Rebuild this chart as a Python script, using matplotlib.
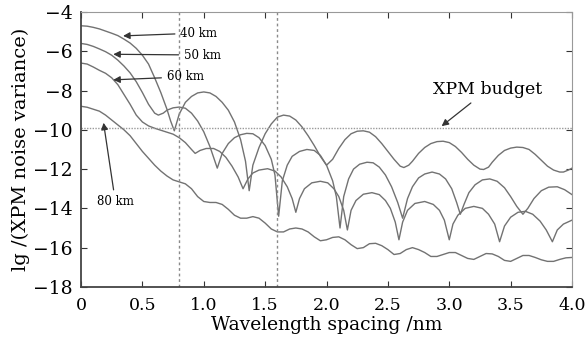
import matplotlib
matplotlib.use("Agg")
import matplotlib.pyplot as plt

# curve samples (wavelength spacing in nm, lg of variance)
x_40 = [0, 0.05, 0.1, 0.15, 0.2, 0.25, 0.3, 0.35, 0.4, 0.45, 0.5, 0.55, 0.6, 0.65, 0.7, 0.73, 0.76,
        0.8, 0.85, 0.9, 0.95, 1.0, 1.05, 1.1, 1.15, 1.2, 1.25, 1.3, 1.34, 1.37, 1.4, 1.45, 1.5, 1.55,
        1.6, 1.65, 1.7, 1.75, 1.8, 1.85, 1.9, 1.95, 2.0, 2.05, 2.1, 2.15, 2.2, 2.25, 2.3, 2.35, 2.4,
        2.45, 2.5, 2.55, 2.6, 2.63, 2.67, 2.7, 2.75, 2.8, 2.85, 2.9, 2.95, 3.0, 3.05, 3.1, 3.15, 3.2,
        3.25, 3.28, 3.32, 3.35, 3.4, 3.45, 3.5, 3.55, 3.6, 3.65, 3.7, 3.75, 3.8, 3.85, 3.9, 3.93, 3.97, 4.0]
y_40 = [-4.70, -4.72, -4.78, -4.86, -4.97, -5.08, -5.20, -5.38, -5.58, -5.85, -6.20, -6.65, -7.35, -8.10,
        -8.95, -9.55, -10.05,
        -9.2, -8.6, -8.3, -8.12, -8.07, -8.12, -8.3, -8.6, -9.0, -9.6, -10.5, -11.6, -13.1, -11.8, -10.9,
        -10.2, -9.7, -9.35, -9.25, -9.3, -9.5, -9.85, -10.3, -10.8, -11.35, -11.8, -11.5, -10.95, -10.5,
        -10.2, -10.07, -10.05, -10.12, -10.35, -10.7, -11.1, -11.5, -11.85, -11.92, -11.8, -11.6, -11.2,
        -10.9, -10.7, -10.6, -10.58, -10.65, -10.85, -11.15, -11.5, -11.8, -12.0, -12.02, -11.9, -11.65,
        -11.3, -11.05, -10.93, -10.88, -10.9, -11.0, -11.25, -11.55, -11.85, -12.05, -12.15, -12.15,
        -12.05, -11.95]

x_50 = [0, 0.05, 0.1, 0.15, 0.2, 0.25, 0.3, 0.35, 0.4, 0.45, 0.5, 0.55, 0.6, 0.63, 0.67, 0.7, 0.75, 0.8,
        0.85, 0.9, 0.95, 1.0, 1.05, 1.11, 1.15, 1.2, 1.25, 1.3, 1.35, 1.4, 1.45, 1.5, 1.55, 1.58, 1.61,
        1.64, 1.68, 1.72, 1.78, 1.84, 1.9, 1.95, 2.0, 2.05, 2.08, 2.11, 2.14, 2.18, 2.22, 2.27, 2.33,
        2.38, 2.43, 2.48, 2.53, 2.58, 2.62, 2.66, 2.7, 2.75, 2.8, 2.86, 2.92, 2.97, 3.02, 3.06, 3.09,
        3.12, 3.16, 3.21, 3.27, 3.33, 3.39, 3.45, 3.5, 3.55, 3.6, 3.64, 3.69, 3.75, 3.81, 3.88, 3.94, 4.0]
y_50 = [-5.60, -5.65, -5.75, -5.88, -6.02, -6.2, -6.45, -6.75, -7.1, -7.55, -8.1, -8.7, -9.15, -9.25,
        -9.15, -9.0, -8.88, -8.84, -8.9, -9.15, -9.55, -10.1, -10.85, -11.95, -11.2, -10.7, -10.4,
        -10.25, -10.18, -10.2, -10.4, -10.8, -11.5, -12.3, -14.4, -12.6, -11.8, -11.35, -11.1, -11.0,
        -11.05, -11.3, -11.8, -12.6, -13.4, -15.0, -13.4, -12.5, -12.0, -11.75, -11.65, -11.68, -11.9,
        -12.3, -12.9, -13.7, -14.5, -13.5, -12.9, -12.45, -12.25, -12.15, -12.25, -12.5, -13.0, -13.7,
        -14.3, -13.8, -13.2, -12.8, -12.55, -12.5, -12.62, -12.95, -13.4, -13.9, -14.3, -14.0, -13.5,
        -13.1, -12.92, -12.9, -13.05, -13.3]

x_60 = [0, 0.05, 0.1, 0.15, 0.2, 0.25, 0.3, 0.35, 0.4, 0.45, 0.5, 0.55, 0.6, 0.65, 0.7, 0.75, 0.8, 0.85,
        0.9, 0.93, 0.97, 1.02, 1.08, 1.13, 1.18, 1.23, 1.28, 1.32, 1.36, 1.4, 1.45, 1.52, 1.58, 1.63,
        1.68, 1.72, 1.75, 1.78, 1.82, 1.88, 1.95, 2.01, 2.06, 2.1, 2.14, 2.17, 2.2, 2.24, 2.3, 2.37,
        2.43, 2.48, 2.52, 2.56, 2.59, 2.62, 2.66, 2.72, 2.8, 2.87, 2.92, 2.96, 3.0, 3.03, 3.07, 3.13,
        3.2, 3.27, 3.32, 3.37, 3.41, 3.45, 3.5, 3.56, 3.62, 3.68, 3.74, 3.79, 3.84, 3.88, 3.93, 4.0]
y_60 = [-6.60, -6.65, -6.8, -6.97, -7.12, -7.35, -7.7, -8.2, -8.7, -9.25, -9.6, -9.8, -9.92, -10.02,
        -10.12, -10.22, -10.4, -10.65, -11.0, -11.2, -11.05, -10.95, -10.95, -11.1, -11.4, -11.85,
        -12.4, -13.0, -12.5, -12.2, -12.05, -11.98, -12.1, -12.4, -12.9, -13.5, -14.2, -13.5, -13.0,
        -12.7, -12.62, -12.7, -13.0, -13.4, -14.1, -15.1, -14.1, -13.6, -13.28, -13.2, -13.3, -13.6,
        -14.0, -14.7, -15.6, -14.7, -14.1, -13.75, -13.65, -13.8, -14.1, -14.6, -15.6, -14.8, -14.35,
        -14.0, -13.9, -14.0, -14.3, -14.8, -15.7, -14.9, -14.45, -14.2, -14.15, -14.3, -14.65, -15.1,
        -15.7, -15.1, -14.8, -14.6]

x_80 = [round(0.05 * i, 2) for i in range(81)]
y_80 = [-8.80, -8.85, -8.95, -9.05, -9.25, -9.50, -9.75, -10.00, -10.30, -10.70, -11.10, -11.45,
        -11.80, -12.10, -12.35, -12.55, -12.65, -12.75, -13.00, -13.40, -13.65, -13.70, -13.70, -13.80,
        -14.05, -14.35, -14.50, -14.50, -14.42, -14.50, -14.75, -15.05, -15.20, -15.20, -15.05, -15.00,
        -15.05, -15.20, -15.45, -15.65, -15.60, -15.48, -15.45, -15.60, -15.85, -16.05, -16.00, -15.80,
        -15.78, -15.90, -16.10, -16.35, -16.30, -16.10, -16.00, -16.10, -16.25, -16.45, -16.45, -16.35,
        -16.25, -16.25, -16.40, -16.55, -16.60, -16.45, -16.30, -16.32, -16.45, -16.65, -16.70, -16.55,
        -16.40, -16.40, -16.50, -16.62, -16.70, -16.70, -16.60, -16.52, -16.50]

budget = -9.9
marker_spacings = [0.8, 1.6]
x_ticks = [0, 0.5, 1.0, 1.5, 2.0, 2.5, 3.0, 3.5, 4.0]
x_ticklabels = ['0', '0.5', '1.0', '1.5', '2.0', '2.5', '3.0', '3.5', '4.0']
y_ticks = [-18, -16, -14, -12, -10, -8, -6, -4]
y_ticklabels = ['\u221218', '\u221216', '\u221214', '\u221212', '\u221210', '\u22128', '\u22126', '\u22124']

plt.rcParams['font.family'] = ['DejaVu Serif']

fig = plt.figure(figsize=(5.85, 3.44), dpi=100)
ax = fig.add_axes([0.1385, 0.166, 0.8393, 0.799])

curve_col = '#727272'
for xs, ys in [(x_40, y_40), (x_50, y_50), (x_60, y_60), (x_80, y_80)]:
    ax.plot(xs, ys, color=curve_col, lw=1.0)

ax.axhline(budget, color='#9a9a9a', lw=1.0, ls=(0, (1, 1)))
for xv in marker_spacings:
    ax.axvline(xv, color='#8a8a8a', lw=1.0, ls=(0, (2, 2)))

ax.set_xlim(0, 4)
ax.set_ylim(-18, -4)
ax.set_xticks(x_ticks)
ax.set_xticklabels(x_ticklabels)
ax.set_yticks(y_ticks)
ax.set_yticklabels(y_ticklabels)
ax.tick_params(direction='in', top=True, right=True, length=4, colors='#333333', labelcolor='black')
ax.tick_params(axis='x', pad=7, labelsize=12.5)
ax.tick_params(axis='y', pad=6, labelsize=13.5)
for s in ['top', 'right']:
    ax.spines[s].set_color('#999999')
    ax.spines[s].set_linewidth(0.8)
for s in ['left', 'bottom']:
    ax.spines[s].set_color('#444444')
    ax.spines[s].set_linewidth(1.3)

ax.set_xlabel('Wavelength spacing /nm', fontsize=13.5, labelpad=2)
ax.set_ylabel('lg /(XPM noise variance)', fontsize=14, labelpad=2)

arr = dict(arrowstyle='-|>', color='#333333', lw=0.9, mutation_scale=10)
ax.annotate('40 km', xy=(0.32, -5.22), xytext=(0.81, -5.07), fontsize=8.5,
            va='center', ha='left', arrowprops=arr)
ax.annotate('50 km', xy=(0.24, -6.15), xytext=(0.84, -6.19), fontsize=8.5,
            va='center', ha='left', arrowprops=arr)
ax.annotate('60 km', xy=(0.24, -7.46), xytext=(0.70, -7.3), fontsize=8.5,
            va='center', ha='left', arrowprops=arr)
ax.annotate('80 km', xy=(0.18, -9.5), xytext=(0.28, -13.67), fontsize=8.5,
            va='center', ha='center', arrowprops=arr)
ax.annotate('XPM budget', xy=(2.92, -9.9), xytext=(3.31, -7.97), fontsize=12.5,
            va='center', ha='center', arrowprops=arr)

fig.savefig('out.png', dpi=100)
